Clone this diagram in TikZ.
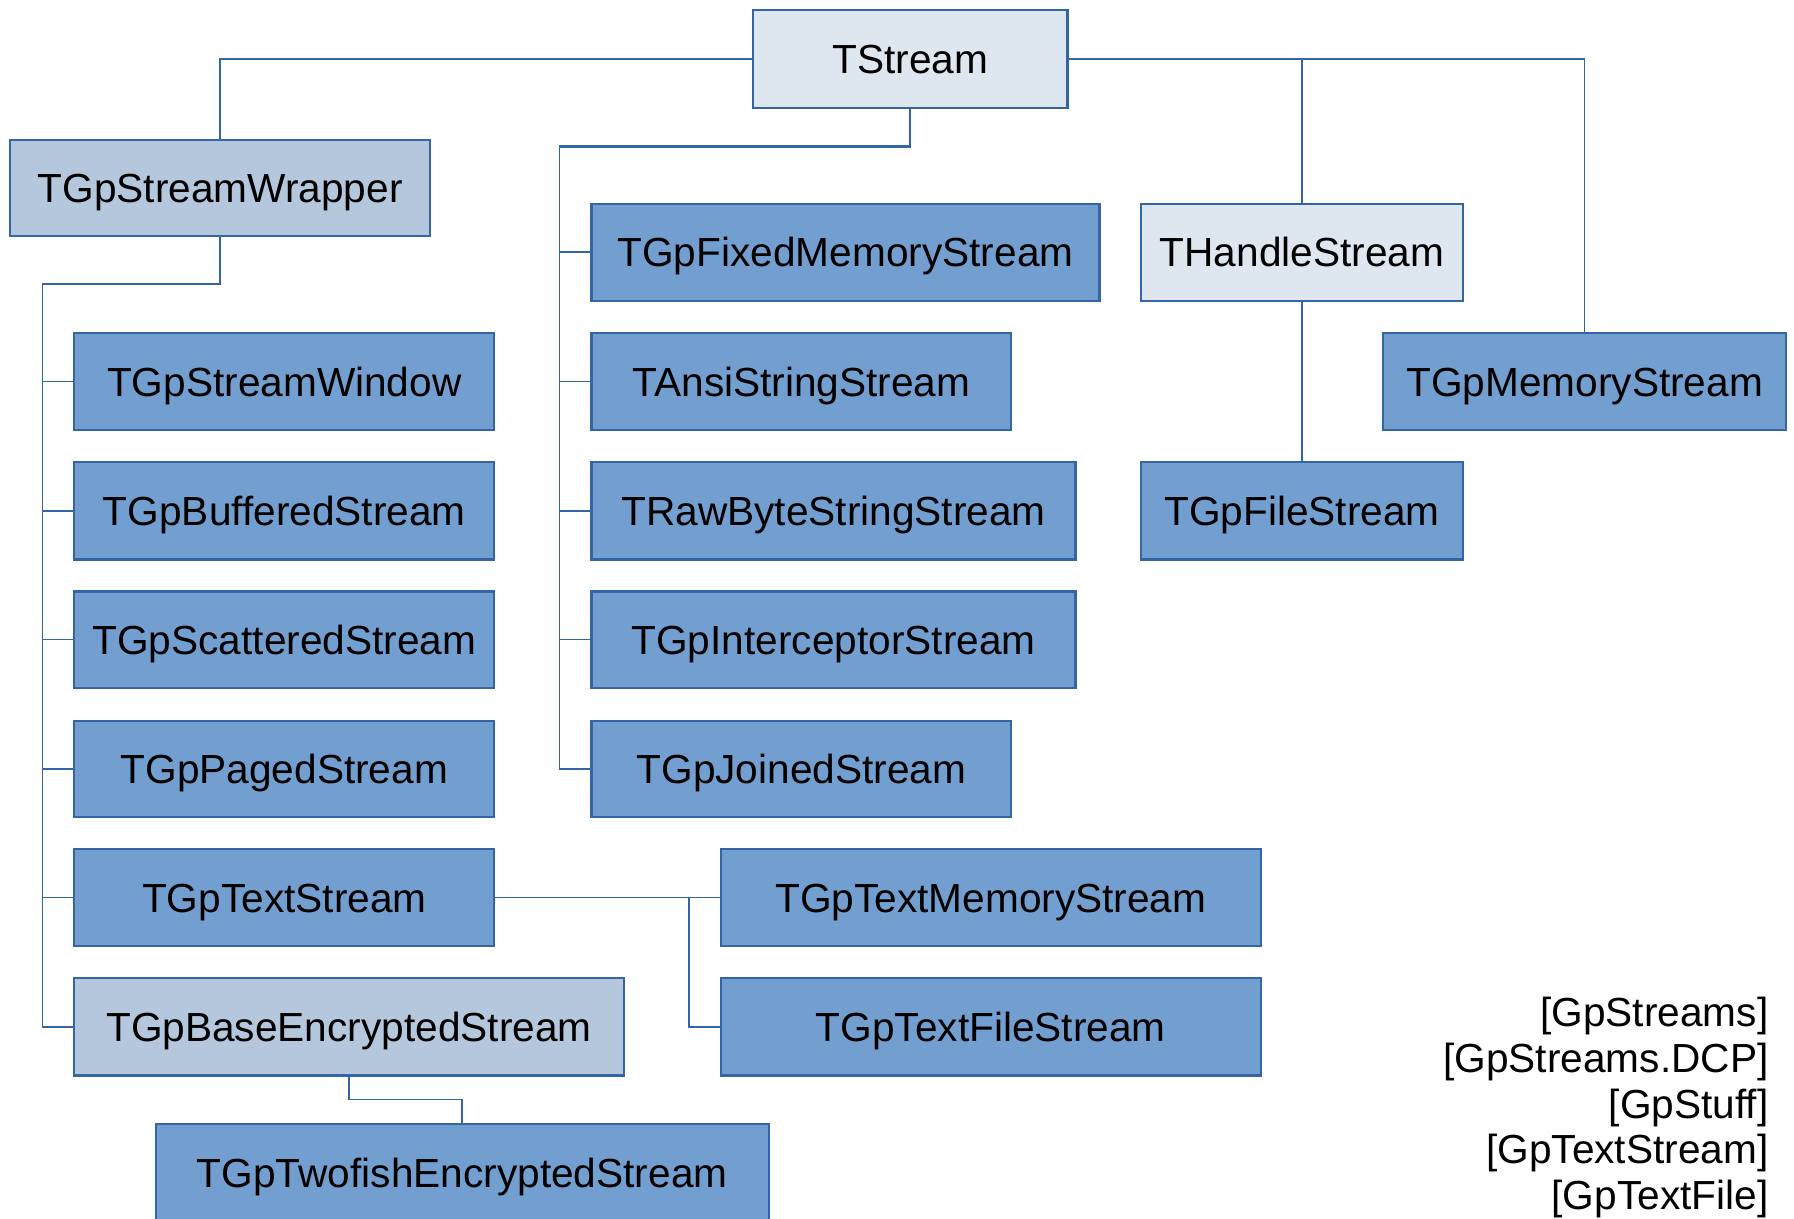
\documentclass[tikz,border=0pt]{standalone}
\usepackage{fontspec}
\setmainfont{Liberation Sans}
\definecolor{bordc}{HTML}{3465A4}
\definecolor{darkf}{HTML}{729FCF}
\definecolor{lightf}{HTML}{B4C7DC}
\definecolor{palef}{HTML}{DEE6EF}
\newcommand\mybox[7]{\node[boxstyle, fill=#7, minimum width={(#4-#2)*0.5pt}, minimum height={(#5-#3)*0.5pt}] (#1) at ({(#2+#4)/2},{(#3+#5)/2}) {#6};}
\begin{document}
\begin{tikzpicture}[x=0.5pt, y=-0.5pt,
  boxstyle/.style={draw=bordc, line width=0.9pt, inner sep=0pt, outer sep=0pt, rectangle, text height=12.7pt, text depth=0pt, font=\fontsize{17.75pt}{20pt}\selectfont},
  connthin/.style={draw=bordc, line width=0.7pt},
  connthick/.style={draw=bordc, line width=1pt}]
\useasboundingbox (0,0) rectangle (1568,1065);
% top
\mybox{TStream}{658}{9}{933}{94}{TStream}{palef}
\mybox{Wrapper}{9}{122}{376}{206}{TGpStreamWrapper}{lightf}
% column 2
\mybox{Fixed}{517}{178}{961}{263}{TGpFixedMemoryStream}{darkf}
\mybox{Ansi}{517}{291}{884}{376}{TAnsiStringStream}{darkf}
\mybox{RawByte}{517}{404}{940}{489}{TRawByteStringStream}{darkf}
\mybox{Interceptor}{517}{517}{940}{601}{TGpInterceptorStream}{darkf}
\mybox{Joined}{517}{630}{884}{714}{TGpJoinedStream}{darkf}
% right
\mybox{THandle}{997}{178}{1279}{263}{THandleStream}{palef}
\mybox{FileS}{997}{404}{1279}{489}{TGpFileStream}{darkf}
\mybox{MemS}{1209}{291}{1561}{376}{TGpMemoryStream}{darkf}
% column 1
\mybox{Window}{65}{291}{432}{376}{TGpStreamWindow}{darkf}
\mybox{Buffered}{65}{404}{432}{489}{TGpBufferedStream}{darkf}
\mybox{Scattered}{65}{517}{432}{601}{TGpScatteredStream}{darkf}
\mybox{Paged}{65}{630}{432}{714}{TGpPagedStream}{darkf}
\mybox{TextS}{65}{742}{432}{827}{TGpTextStream}{darkf}
\mybox{BaseEnc}{65}{855}{545}{940}{TGpBaseEncryptedStream}{lightf}
\mybox{Twofish}{136}{982}{672}{1068}{TGpTwofishEncryptedStream}{darkf}
\mybox{TextMem}{630}{742}{1102}{827}{TGpTextMemoryStream}{darkf}
\mybox{TextFile}{630}{855}{1102}{940}{TGpTextFileStream}{darkf}
% connectors from TStream
\draw[connthin] (TStream.west) -| (Wrapper.north);
\draw[connthin] (TStream.east) -| (MemS.north);
\draw[connthin] (TStream.east) -| (THandle.north);
\draw[connthin] (THandle.south) -- (FileS.north);
\coordinate (s2) at (489,128);
\draw[connthick] (TStream.south) |- (s2);
\draw[connthin] (s2) |- (Joined.west);
\foreach \n in {Fixed,Ansi,RawByte,Interceptor} \draw[connthin] (s2 |- \n.west) -- (\n.west);
% connectors from wrapper
\coordinate (s1) at (37,248);
\draw[connthick] (Wrapper.south) |- (s1);
\draw[connthin] (s1) |- (BaseEnc.west);
\foreach \n in {Window,Buffered,Scattered,Paged,TextS} \draw[connthin] (s1 |- \n.west) -- (\n.west);
% text stream
\coordinate (s3) at (602,785);
\draw[connthin] (TextS.east) -- (TextMem.west);
\draw[connthin] (s3) |- (TextFile.west);
% encrypted
\draw[connthin] (BaseEnc.south) -- ++(0,21) -| (Twofish.north);
% legend
\node[anchor=east, inner sep=0pt, align=right, font=\fontsize{17.75pt}{20pt}\selectfont] (legend) at (1546,968) {{[GpStreams]}\\{[GpStreams.DCP]}\\{[GpStuff]}\\{[GpTextStream]}\\{[GpTextFile]}};
\end{tikzpicture}
\end{document}
